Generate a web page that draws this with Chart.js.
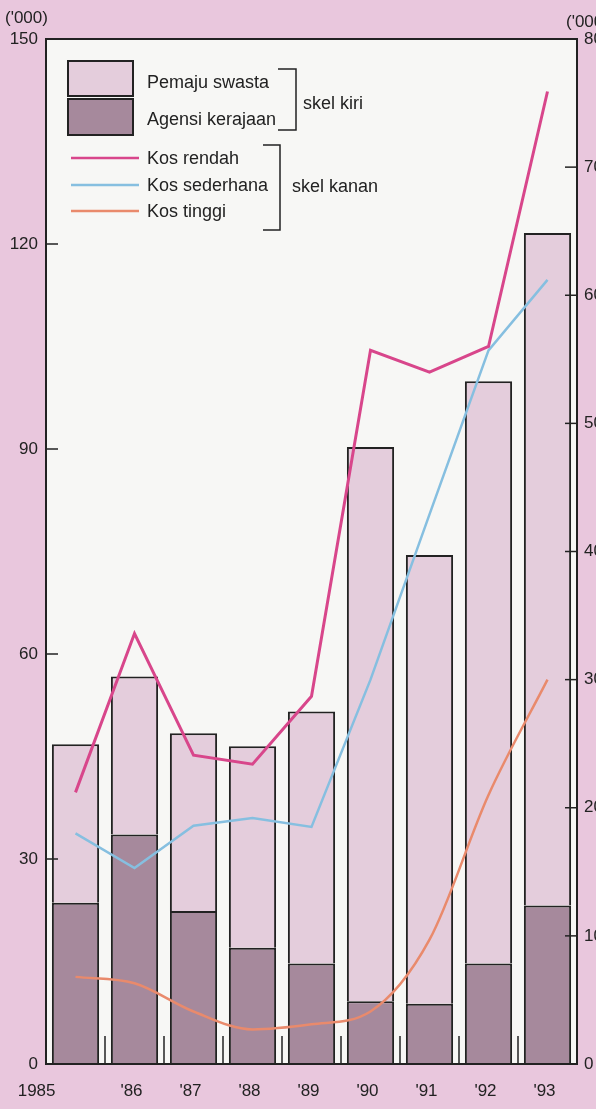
<!DOCTYPE html>
<html>
<head>
<meta charset="utf-8">
<script src="https://cdn.jsdelivr.net/npm/chart.js@4/dist/chart.umd.min.js"></script>
<style>
  html, body { margin: 0; padding: 0; background: #e9c7dd; }
  canvas { display: block; }
</style>
</head>
<body>
<canvas id="housingChart" width="596" height="1109"></canvas>
<script>
// data
const years = ["1985", "'86", "'87", "'88", "'89", "'90", "'91", "'92", "'93"];
// left scale ('000 units)
const agensiKerajaan = [23.6, 33.6, 22.4, 17.0, 14.7, 9.2, 8.8, 14.7, 23.2];
const pemajuSwasta = [23.2, 23.1, 26.0, 29.5, 36.9, 81.1, 65.7, 85.2, 98.4];
// right scale ('000)
const kosRendah = [21.2, 33.6, 24.1, 23.4, 28.7, 55.7, 54.0, 56.0, 75.9];
const kosSederhana = [18.0, 15.3, 18.6, 19.2, 18.5, 30.0, 42.9, 55.7, 61.2];
const kosTinggi = [6.8, 6.3, 4.1, 2.7, 3.1, 4.1, 9.7, 21.0, 30.0];
const leftMax = 150, leftStep = 30;
const rightMax = 80, rightStep = 10;

const lightBar = "#e4cddc";
const darkBar = "#a6899c";
const ink = "#222";

Chart.defaults.font.family = "'Liberation Sans', Arial, sans-serif";
Chart.defaults.font.size = 17;
Chart.defaults.color = ink;

// white plot area, frame, inner ticks, legend, x labels
const decorations = {
  id: "decorations",
  beforeDatasetsDraw(chart) {
    const { ctx, chartArea: a } = chart;
    ctx.save();
    ctx.fillStyle = "#f7f7f5";
    ctx.fillRect(a.left, a.top, a.right - a.left, a.bottom - a.top);
    ctx.restore();
  },
  afterDraw(chart) {
    const { ctx, chartArea: a, scales } = chart;
    ctx.save();
    ctx.strokeStyle = ink;
    ctx.lineWidth = 1.5;

    // small ticks between the bars
    for (let i = 0; i < years.length; i++) {
      const x = (scales.x.getPixelForValue(i) + scales.x.getPixelForValue(i + 1)) / 2;
      ctx.beginPath();
      ctx.moveTo(x, a.bottom);
      ctx.lineTo(x, a.bottom - 28);
      ctx.stroke();
    }

    // inward axis ticks
    scales.y.ticks.forEach((t) => {
      const y = scales.y.getPixelForValue(t.value);
      ctx.beginPath();
      ctx.moveTo(a.left, y);
      ctx.lineTo(a.left + 12, y);
      ctx.stroke();
    });
    scales.y1.ticks.forEach((t) => {
      const y = scales.y1.getPixelForValue(t.value);
      ctx.beginPath();
      ctx.moveTo(a.right - 12, y);
      ctx.lineTo(a.right, y);
      ctx.stroke();
    });

    // frame
    ctx.lineWidth = 2;
    ctx.strokeRect(a.left, a.top, a.right - a.left, a.bottom - a.top);

    // units
    ctx.fillStyle = ink;
    ctx.font = "17px 'Liberation Sans', Arial, sans-serif";
    ctx.textBaseline = "middle";
    ctx.textAlign = "left";
    ctx.fillText("('000)", 5, 18);
    ctx.fillText("('000)", 566, 22);

    // x labels
    ctx.textAlign = "center";
    years.forEach((label, i) => {
      const x = scales.x.getPixelForValue(i);
      if (i === 0) {
        ctx.textAlign = "right";
        ctx.fillText(label, x - 20, 1091);
        ctx.textAlign = "center";
      } else {
        ctx.fillText(label, x - 3, 1091);
      }
    });

    // legend
    ctx.font = "18px 'Liberation Sans', Arial, sans-serif";
    ctx.lineWidth = 2;
    ctx.fillStyle = lightBar;
    ctx.fillRect(68, 61, 65, 35);
    ctx.strokeRect(68, 61, 65, 35);
    ctx.fillStyle = darkBar;
    ctx.fillRect(68, 99, 65, 36);
    ctx.strokeRect(68, 99, 65, 36);
    ctx.fillStyle = ink;
    ctx.textAlign = "left";
    ctx.fillText("Pemaju swasta", 147, 83);
    ctx.fillText("Agensi kerajaan", 147, 120);
    ctx.fillText("skel kiri", 303, 104);

    ctx.lineWidth = 1.5;
    ctx.beginPath();
    ctx.moveTo(278, 69);
    ctx.lineTo(296, 69);
    ctx.lineTo(296, 130);
    ctx.lineTo(278, 130);
    ctx.stroke();

    const lineKeys = [
      ["Kos rendah", "#d8468b", 158],
      ["Kos sederhana", "#86bfe0", 185],
      ["Kos tinggi", "#e98a6c", 211],
    ];
    lineKeys.forEach(([label, color, y]) => {
      ctx.strokeStyle = color;
      ctx.lineWidth = 2.5;
      ctx.beginPath();
      ctx.moveTo(71, y);
      ctx.lineTo(139, y);
      ctx.stroke();
      ctx.fillText(label, 147, y + 1);
    });
    ctx.fillText("skel kanan", 292, 187);

    ctx.strokeStyle = ink;
    ctx.lineWidth = 1.5;
    ctx.beginPath();
    ctx.moveTo(263, 145);
    ctx.lineTo(280, 145);
    ctx.lineTo(280, 230);
    ctx.lineTo(263, 230);
    ctx.stroke();

    ctx.restore();
  },
};

new Chart(document.getElementById("housingChart"), {
  data: {
    labels: years,
    datasets: [
      {
        type: "line",
        label: "Kos rendah",
        data: kosRendah,
        yAxisID: "y1",
        borderColor: "#d8468b",
        borderWidth: 3,
        pointRadius: 0,
        tension: 0,
        order: 0,
      },
      {
        type: "line",
        label: "Kos sederhana",
        data: kosSederhana,
        yAxisID: "y1",
        borderColor: "#86bfe0",
        borderWidth: 2.5,
        pointRadius: 0,
        tension: 0,
        order: 0,
      },
      {
        type: "line",
        label: "Kos tinggi",
        data: kosTinggi,
        yAxisID: "y1",
        borderColor: "#e98a6c",
        borderWidth: 2.5,
        pointRadius: 0,
        cubicInterpolationMode: "monotone",
        order: 0,
      },
      {
        type: "bar",
        label: "Agensi kerajaan",
        data: agensiKerajaan,
        yAxisID: "y",
        backgroundColor: darkBar,
        borderColor: ink,
        borderWidth: 2,
        stack: "homes",
        order: 1,
      },
      {
        type: "bar",
        label: "Pemaju swasta",
        data: pemajuSwasta,
        yAxisID: "y",
        backgroundColor: lightBar,
        borderColor: ink,
        borderWidth: 2,
        stack: "homes",
        order: 1,
      },
    ],
  },
  options: {
    responsive: false,
    animation: false,
    layout: { padding: { top: 39, left: 0, right: 0, bottom: 0 } },
    datasets: {
      bar: { barPercentage: 0.8, categoryPercentage: 1.0 },
    },
    scales: {
      x: {
        stacked: true,
        grid: { display: false },
        border: { display: false },
        ticks: { display: false },
        afterFit: (scale) => { scale.height = 45; },
      },
      y: {
        position: "left",
        stacked: true,
        min: 0,
        max: leftMax,
        grid: { display: false, drawTicks: false },
        border: { display: false },
        ticks: { stepSize: leftStep, padding: 8 },
        afterFit: (scale) => { scale.width = 46; },
      },
      y1: {
        position: "right",
        min: 0,
        max: rightMax,
        grid: { display: false, drawTicks: false },
        border: { display: false },
        ticks: { stepSize: rightStep, padding: 7 },
        afterFit: (scale) => { scale.width = 19; },
      },
    },
    plugins: {
      legend: { display: false },
      tooltip: { enabled: false },
    },
  },
  plugins: [decorations],
});
</script>
</body>
</html>
